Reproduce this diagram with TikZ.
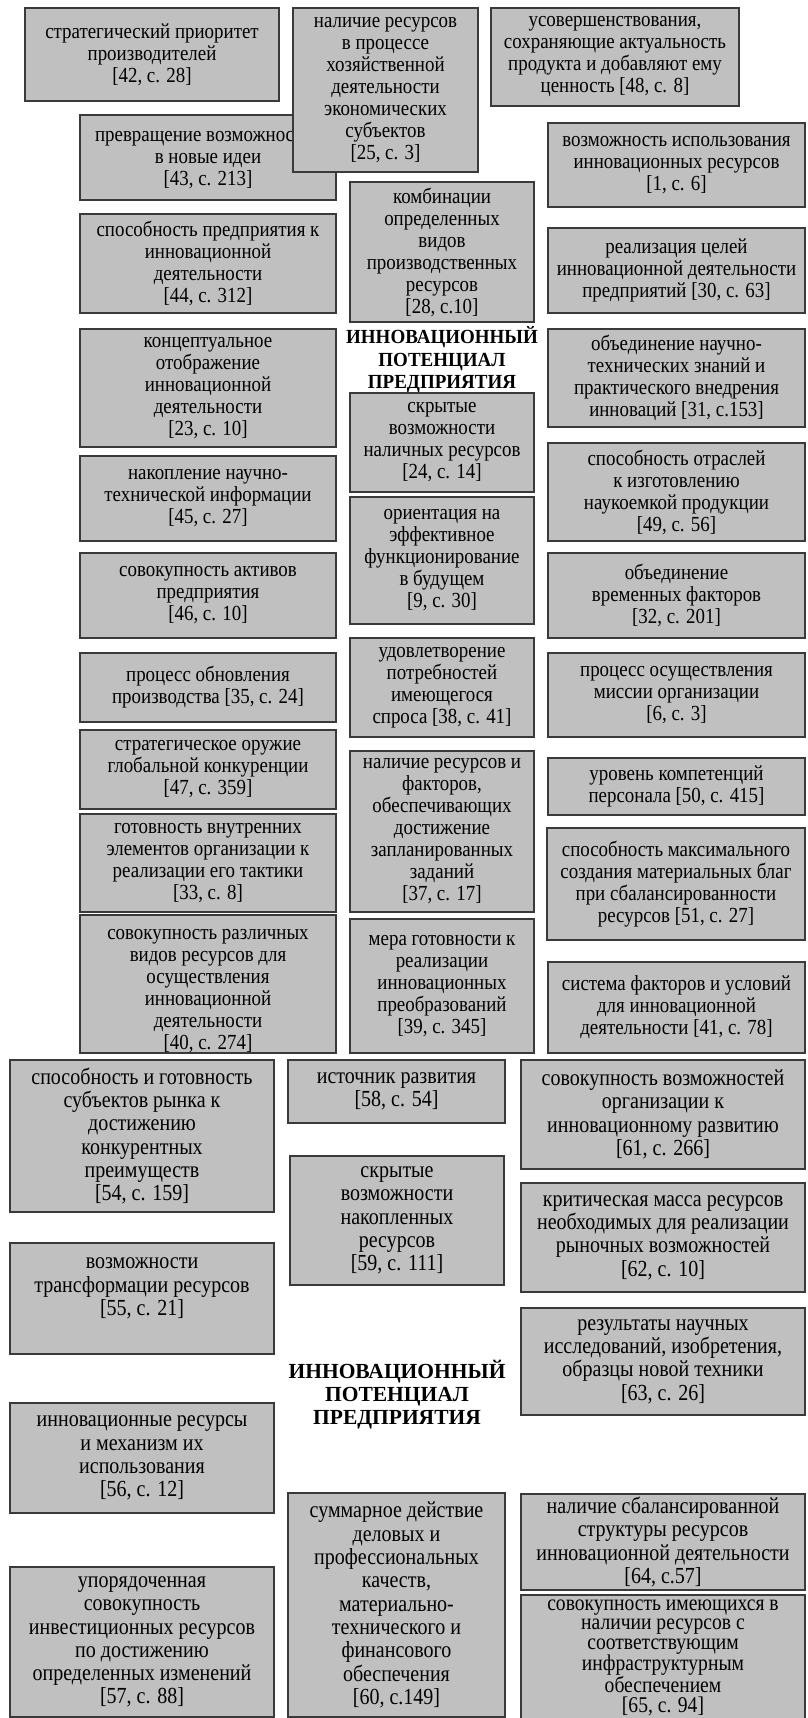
\documentclass[tikz,border=0pt]{standalone}
\usepackage{fontspec}
\setmainfont{Liberation Serif}
\newfontfamily\narrowtop[FakeStretch=0.88]{Liberation Serif}
\newfontfamily\narrowlow[FakeStretch=0.87]{Liberation Serif}
\newfontfamily\narrowhead[FakeStretch=0.95]{Liberation Serif}
\usepackage{tikz}
\definecolor{boxgray}{HTML}{C0C0C0}
\definecolor{boxline}{HTML}{3A3A3A}
\newcommand{\topsize}{\narrowtop\fontsize{21.5}{22}\selectfont}
\newcommand{\lowsize}{\narrowlow\fontsize{23}{23.3}\selectfont}
\tikzset{
  defbox/.style={draw=boxline, line width=1.4pt, fill=boxgray, align=center,
    inner sep=0pt, font=\topsize},
  lowbox/.style={defbox, font=\lowsize},
  corners/.style args={#1,#2,#3,#4}{at={({(#1+#3)/2},{(#2+#4)/2})},
    minimum width={(#3-#1)*1pt}, minimum height={(#4-#2)*1pt}},
  heading/.style={align=center, font=\narrowhead\bfseries\fontsize{20}{22.5}\selectfont},
  lowheading/.style={heading, font=\bfseries\fontsize{21.5}{23}\selectfont}
}

\begin{document}
\begin{tikzpicture}[x=1pt, y=-1pt]
  \useasboundingbox (0,0) rectangle (807,1718);

  \node[defbox, corners={25,8,279,101}] (prior) {стратегический приоритет\\производителей\\{[42, с. 28]}};
  \node[defbox, corners={80,115,336,200}] (ideas) {превращение возможностей\\в новые идеи\\{[43, с. 213]}};
  \node[defbox, corners={293,8,478,172}] (econ) {наличие ресурсов\\в процессе\\хозяйственной\\деятельности\\экономических\\субъектов\\{[25, с. 3]}};
  \node[defbox, corners={491,8,739,106}] (improve) {усовершенствования,\\сохраняющие актуальность\\продукта и добавляют ему\\ценность [48, с. 8]};
  \node[defbox, corners={548,123,805,207}] (usage) {возможность использования\\инновационных ресурсов\\{[1, с. 6]}};
  \node[defbox, corners={350,182,534,322}] (combo) {комбинации\\определенных\\видов\\производственных\\ресурсов\\{[28, с.10]}};
  \node[defbox, corners={80,214,336,313}] (ability) {способность предприятия к\\инновационной\\деятельности\\{[44, с. 312]}};
  \node[defbox, corners={548,228,805,313}] (goals) {реализация целей\\инновационной деятельности\\предприятий [30, с. 63]};
  \node[heading] (headup) at (442,360) {ИННОВАЦИОННЫЙ\\ПОТЕНЦИАЛ\\ПРЕДПРИЯТИЯ};
  \node[defbox, corners={80,329,336,447}] (concept) {концептуальное\\отображение\\инновационной\\деятельности\\{[23, с. 10]}};
  \node[defbox, corners={548,329,805,427}] (union) {объединение научно-\\технических знаний и\\практического внедрения\\инноваций [31, с.153]};
  \node[defbox, corners={350,393,534,492}] (hidden) {скрытые\\возможности\\наличных ресурсов\\{[24, с. 14]}};
  \node[defbox, corners={80,456,336,541}] (accum) {накопление научно-\\технической информации\\{[45, с. 27]}};
  \node[defbox, corners={350,497,534,624}] (future) {ориентация на\\эффективное\\функционирование\\в будущем\\{[9, с. 30]}};
  \node[defbox, corners={548,443,805,541}] (branch) {способность отраслей\\к изготовлению\\наукоемкой продукции\\{[49, с. 56]}};
  \node[defbox, corners={80,553,336,638}] (assets) {совокупность активов\\предприятия\\{[46, с. 10]}};
  \node[defbox, corners={548,553,805,638}] (timef) {объединение\\временных факторов\\{[32, с. 201]}};
  \node[defbox, corners={80,653,336,722}] (renew) {процесс обновления\\производства [35, с. 24]};
  \node[defbox, corners={350,638,534,737}] (demand) {удовлетворение\\потребностей\\имеющегося\\спроса [38, с. 41]};
  \node[defbox, corners={548,653,805,737}] (mission) {процесс осуществления\\миссии организации\\{[6, с. 3]}};
  \node[defbox, corners={80,730,336,809}] (weapon) {стратегическое оружие\\глобальной конкуренции\\{[47, с. 359]}};
  \node[defbox, corners={350,751,534,912}] (tasks) {наличие ресурсов и\\факторов,\\обеспечивающих\\достижение\\запланированных\\заданий\\{[37, с. 17]}};
  \node[defbox, corners={548,758,805,815}] (staff) {уровень компетенций\\персонала [50, с. 415]};
  \node[defbox, corners={80,814,336,912}] (tactic) {готовность внутренних\\элементов организации к\\реализации его тактики\\{[33, с. 8]}};
  \node[defbox, corners={547,828,805,940}] (wealth) {способность максимального\\создания материальных благ\\при сбалансированности\\ресурсов [51, с. 27]};
  \node[defbox, corners={80,915,336,1053}] (kinds) {\rule{0pt}{24pt}совокупность различных\\видов ресурсов для\\осуществления\\инновационной\\деятельности\\{[40, с. 274]}};
  \node[defbox, corners={350,919,534,1053}] (measure) {мера готовности к\\реализации\\инновационных\\преобразований\\{[39, с. 345]}};
  \node[defbox, corners={548,962,805,1053}] (system) {система факторов и условий\\для инновационной\\деятельности [41, с. 78]};

  \node[lowbox, corners={10,1060,274,1212}] (market) {способность и готовность\\субъектов рынка к\\достижению\\конкурентных\\преимуществ\\{[54, с. 159]}};
  \node[lowbox, corners={288,1060,505,1123}] (source) {источник развития\\{[58, с. 54]}};
  \node[lowbox, corners={521,1060,805,1169}] (develop) {совокупность возможностей\\организации к\\инновационному развитию\\{[61, с. 266]}};
  \node[lowbox, corners={290,1156,504,1285}] (latent) {скрытые\\возможности\\накопленных\\ресурсов\\{[59, с. 111]}};
  \node[lowbox, corners={521,1183,805,1292}] (mass) {критическая масса ресурсов\\необходимых для реализации\\рыночных возможностей\\{[62, с. 10]}};
  \node[lowbox, corners={10,1243,274,1354}] (transf) {возможности\\трансформации ресурсов\\{[55, с. 21]}\\{}};
  \node[lowbox, corners={521,1308,805,1415}] (results) {результаты научных\\исследований, изобретения,\\образцы новой техники\\{[63, с. 26]}};
  \node[lowheading] (headlow) at (397,1395) {ИННОВАЦИОННЫЙ\\ПОТЕНЦИАЛ\\ПРЕДПРИЯТИЯ};
  \node[lowbox, corners={10,1403,274,1513}] (mechan) {инновационные ресурсы\\и механизм их\\использования\\{[56, с. 12]}};
  \node[lowbox, corners={521,1494,805,1590}] (balance) {наличие сбалансированной\\структуры ресурсов\\инновационной деятельности\\{[64, с.57]}};
  \node[lowbox, corners={288,1493,505,1717}] (total) {суммарное действие\\деловых и\\профессиональных\\качеств,\\материально-\\технического и\\финансового\\обеспечения\\{[60, с.149]}};
  \node[lowbox, corners={10,1567,274,1717}] (ordered) {упорядоченная\\совокупность\\инвестиционных ресурсов\\по достижению\\определенных изменений\\{[57, с. 88]}};
  \node[lowbox, corners={521,1595,805,1720}, font=\narrowlow\fontsize{22.5}{19.5}\selectfont] (infra) {совокупность имеющихся в\\наличии ресурсов с\\соответствующим\\инфраструктурным\\обеспечением\\{[65, с. 94]}};
\end{tikzpicture}
\end{document}
